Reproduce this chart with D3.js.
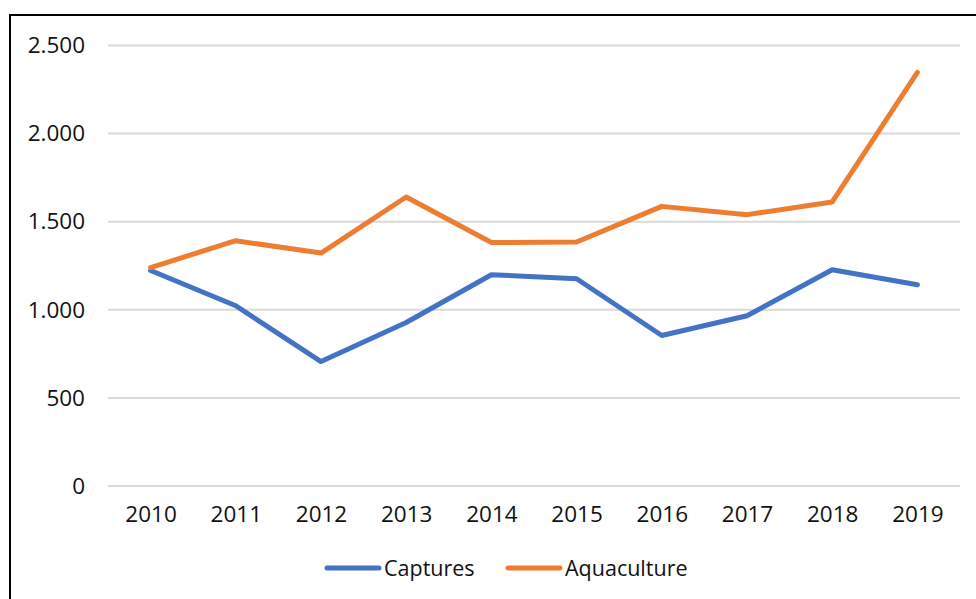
<!DOCTYPE html>
<html>
<head>
<meta charset="utf-8">
<script src="https://cdn.jsdelivr.net/npm/d3@7"></script>
<style>
  body { margin: 0; background: #fff; }
  svg { display: block; font-family: "Open Sans", "Noto Sans", sans-serif; }
</style>
</head>
<body>
<svg id="chart" width="976" height="599"></svg>
<script>
const years = ['2010', '2011', '2012', '2013', '2014', '2015', '2016', '2017', '2018', '2019'];
const captures = [1223, 1023, 706, 928, 1199, 1176, 854, 966, 1227, 1142];
const aquaculture = [1240, 1392, 1322, 1640, 1382, 1385, 1587, 1540, 1612, 2348];
const yTicks = [0, 500, 1000, 1500, 2000, 2500];
const seriesNames = ['Captures', 'Aquaculture'];
const seriesColors = ['#4472C4', '#ED7D31'];

const svg = d3.select('#chart');
const fontSize = 22.5;

// cadre noir qui sort de l'image
svg.append('rect').attr('x', 10).attr('y', 15).attr('width', 1000).attr('height', 700)
  .attr('fill', 'none').attr('stroke', '#000').attr('stroke-width', 2);

const x = d3.scalePoint().domain(years).range([108, 960]).padding(0.5);
const y = d3.scaleLinear().domain([0, 2500]).range([486, 45.5]);

const fmt = (d) => d3.format(',')(d).replace(/,/g, '.');

// grille
svg.append('g').selectAll('line').data(yTicks).enter().append('line')
  .attr('x1', 108).attr('x2', 960)
  .attr('y1', (d) => y(d)).attr('y2', (d) => y(d))
  .attr('stroke', '#d9d9d9').attr('stroke-width', 2);

// axe y
const yAxis = svg.append('g').attr('transform', 'translate(108,0)')
  .call(d3.axisLeft(y).tickValues(yTicks).tickFormat(fmt).tickSize(0).tickPadding(23));
yAxis.select('.domain').remove();
yAxis.selectAll('text').attr('font-size', fontSize).attr('fill', '#111').attr('font-family', '"Open Sans", sans-serif');

// axe x
const xAxis = svg.append('g').attr('transform', 'translate(0,486)')
  .call(d3.axisBottom(x).tickSize(0).tickPadding(20));
xAxis.select('.domain').remove();
xAxis.selectAll('text').attr('font-size', fontSize).attr('fill', '#111').attr('font-family', '"Open Sans", sans-serif');

// lignes
const line = d3.line().x((d, i) => x(years[i])).y((d) => y(d));
[captures, aquaculture].forEach((vals, i) => {
  svg.append('path').datum(vals).attr('d', line)
    .attr('fill', 'none').attr('stroke', seriesColors[i]).attr('stroke-width', 5)
    .attr('stroke-linejoin', 'round').attr('stroke-linecap', 'round');
});

// légende
const legendX = [327, 508];
const leg = svg.append('g');
seriesNames.forEach((name, i) => {
  leg.append('line').attr('x1', legendX[i]).attr('x2', legendX[i] + 52)
    .attr('y1', 568).attr('y2', 568)
    .attr('stroke', seriesColors[i]).attr('stroke-width', 5).attr('stroke-linecap', 'round');
  leg.append('text').attr('x', legendX[i] + 57).attr('y', 576)
    .attr('font-size', fontSize - 1).attr('fill', '#111').text(name);
});
</script>
</body>
</html>
